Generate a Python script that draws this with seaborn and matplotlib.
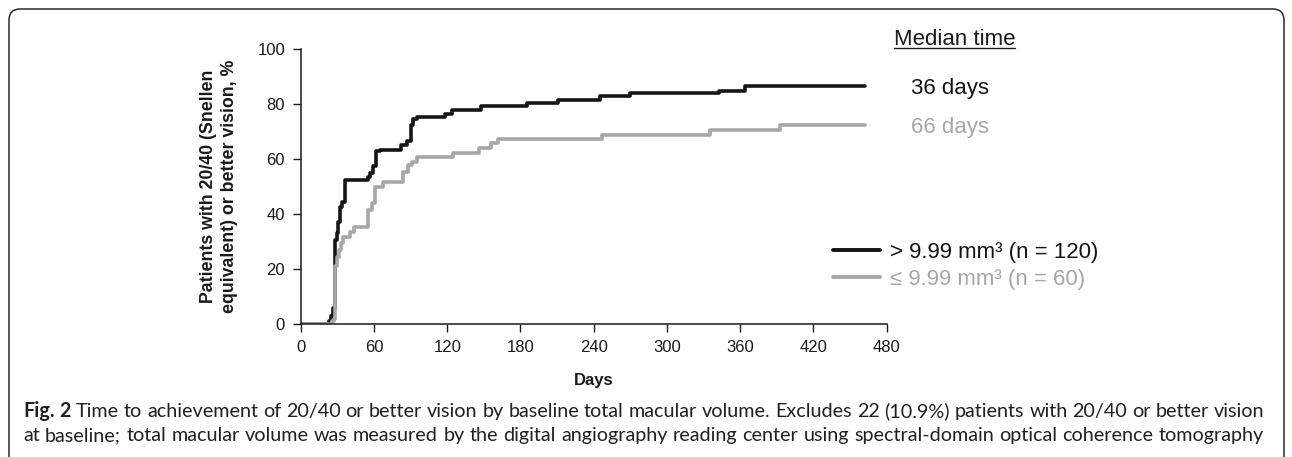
import numpy as np
import pandas as pd
import matplotlib
matplotlib.use("Agg")
import matplotlib.pyplot as plt
import seaborn as sns
from matplotlib.patches import FancyBboxPatch
from matplotlib.lines import Line2D
from matplotlib.transforms import IdentityTransform

# ---------------- data ----------------
high_days = [0, 23, 25, 26.5, 28, 28.5, 29.5, 30.5, 32, 33.5, 36, 55, 57, 59, 62, 65,
             82.5, 87, 90, 92, 95, 118, 124, 148, 185, 211, 245, 270, 343, 364, 462]
high_pct = [0, 1, 3, 6, 22.7, 30.6, 33, 37, 42.7, 44.5, 52.4, 53.5, 55, 57.5, 63, 63.5,
            65, 66.5, 72.5, 74.5, 75.5, 76.5, 78, 79.5, 80.5, 81.7, 83, 84, 85, 86.8, 86.8]
low_days = [0, 26, 27.5, 28, 29.5, 31, 33, 35, 40, 44, 55.5, 58, 60.5, 67.5, 84, 88, 91,
            95, 125, 146, 156, 161.5, 246.5, 335.5, 392.5, 462]
low_pct = [0, 1, 2, 21, 24.5, 27, 29.5, 31.8, 33.6, 35.4, 41.5, 44, 50, 51.8, 55.5, 58, 59,
           60.7, 62.1, 64, 65.8, 67.2, 68.8, 70.6, 72.5, 72.5]

group_labels = ["> 9.99 mm³ (n = 120)", "≤ 9.99 mm³ (n = 60)"]
median_labels = ["36 days", "66 days"]
median_title = "Median time"
x_ticks = [0, 60, 120, 180, 240, 300, 360, 420, 480]
y_ticks = [0, 20, 40, 60, 80, 100]
x_label = "Days"
y_label = "Patients with 20/40 (Snellen\nequivalent) or better vision, %"
caption_line1 = ("Fig. 2 Time to achievement of 20/40 or better vision by baseline total macular "
                 "volume. Excludes 22 (10.9%) patients with 20/40 or better vision")
caption_line2 = ("at baseline; total macular volume was measured by the digital angiography reading "
                 "center using spectral-domain optical coherence tomography")

BLACK = "#151515"
GRAY = "#a7a7a7"

# ---------------- figure ----------------
sns.set_theme(style="ticks")
plt.rcParams['font.family'] = ['Liberation Sans', 'DejaVu Sans']
W, H = 1292, 457
fig = plt.figure(figsize=(W / 100, H / 100), dpi=100)
fig.patch.set_facecolor("white")

ax_l, ax_r, ax_t, ax_b = 300.7, 886.7, 49.3, 324.0
ax = fig.add_axes([ax_l / W, 1 - ax_b / H, (ax_r - ax_l) / W, (ax_b - ax_t) / H])
ax.set_facecolor("white")

df = pd.concat([
    pd.DataFrame({"day": high_days, "pct": high_pct, "group": group_labels[0]}),
    pd.DataFrame({"day": low_days, "pct": low_pct, "group": group_labels[1]}),
], ignore_index=True)

sns.lineplot(data=df, x="day", y="pct", hue="group", hue_order=group_labels,
             palette=[BLACK, GRAY], drawstyle="steps-post", estimator=None, sort=False,
             linewidth=2.6, legend=False, ax=ax)

ax.set_xlim(0, 480)
ax.set_ylim(0, 100)
ax.set_xticks(x_ticks)
ax.set_yticks(y_ticks)
sns.despine(ax=ax)
for s in ["left", "bottom"]:
    ax.spines[s].set_linewidth(1.1)
    ax.spines[s].set_color("#1a1a1a")
ax.tick_params(direction="out", length=5.8, width=1.0, pad=5.5, labelsize=12,
               colors="#1a1a1a")
for sp in ax.spines.values():
    sp.set_clip_on(False)

ax.set_xlabel(x_label, fontsize=12, fontweight="bold", color="#1a1a1a")
ax.xaxis.label.set_verticalalignment("center")
ax.xaxis.set_label_coords(0.5, (ax_b - 380) / (ax_b - ax_t))
ax.set_ylabel(y_label, fontsize=12.8, fontweight="bold", color="#1a1a1a", linespacing=1.35)
ax.yaxis.label.set_verticalalignment("center")
ax.yaxis.set_label_coords((219 - ax_l) / (ax_r - ax_l), 0.5)

# legend
handles = [Line2D([], [], color=BLACK, lw=2.8), Line2D([], [], color=GRAY, lw=2.8)]
leg = ax.legend(handles, group_labels, loc="center left",
                bbox_to_anchor=(833 / W, 1 - 266 / H), bbox_transform=fig.transFigure,
                frameon=False, fontsize=16, handlelength=2.1, handletextpad=0.45,
                labelspacing=0.25, borderpad=0, borderaxespad=0)
leg.get_texts()[0].set_color(BLACK)
leg.get_texts()[1].set_color(GRAY)

# median time annotations
t_med = fig.text(954.7 / W, 1 - 45 / H, median_title, ha="center", va="baseline",
                 fontsize=16, color="#1a1a1a")
fig.text(911 / W, 1 - 94 / H, median_labels[0], ha="left", va="baseline",
         fontsize=16, color=BLACK)
fig.text(911 / W, 1 - 133 / H, median_labels[1], ha="left", va="baseline",
         fontsize=16, color=GRAY)

renderer = fig.canvas.get_renderer()
bb = t_med.get_window_extent(renderer)
fig.add_artist(Line2D([bb.x0, bb.x1], [H - 47.5, H - 47.5], transform=IdentityTransform(),
                      color="#1a1a1a", lw=1.0))

# caption (justified lines)
cap_font = ["Lato", "DejaVu Sans"]
cap_left, cap_right = 23, 1264
target = cap_right - cap_left


def word_widths(words, fs, bold_n):
    ws = []
    for i, w in enumerate(words):
        t = fig.text(0, 0, w, fontsize=fs, family=cap_font,
                     fontweight="bold" if i < bold_n else "normal")
        ws.append(t.get_window_extent(renderer).width)
        t.remove()
    return ws


def space_width(fs):
    a = fig.text(0, 0, "a a", fontsize=fs, family=cap_font)
    b = fig.text(0, 0, "aa", fontsize=fs, family=cap_font)
    w = a.get_window_extent(renderer).width - b.get_window_extent(renderer).width
    a.remove(); b.remove()
    return w


w2 = caption_line2.split(" ")
fs = 12.0
for _ in range(3):
    nat = sum(word_widths(w2, fs, 0)) + space_width(fs) * (len(w2) - 1)
    fs = fs * target / nat


def draw_justified(text, y_base, bold_n):
    words = text.split(" ")
    ws = word_widths(words, fs, bold_n)
    gap = (target - sum(ws)) / (len(words) - 1)
    x = cap_left
    for i, (w, wd) in enumerate(zip(words, ws)):
        fig.text(x / W, 1 - y_base / H, w, fontsize=fs, family=cap_font,
                 fontweight="bold" if i < bold_n else "normal", color="#231f20",
                 ha="left", va="baseline")
        x += wd + gap


draw_justified(caption_line1, 417, 2)
draw_justified(caption_line2, 441, 0)

# rounded frame
frame = FancyBboxPatch((9, -30), 1275, H - 9 + 30, boxstyle="round,pad=0,rounding_size=11",
                       transform=IdentityTransform(), facecolor="none", edgecolor="#2a2a2a",
                       lw=1.1)
fig.add_artist(frame)

fig.savefig("out.png", dpi=100, facecolor="white")
